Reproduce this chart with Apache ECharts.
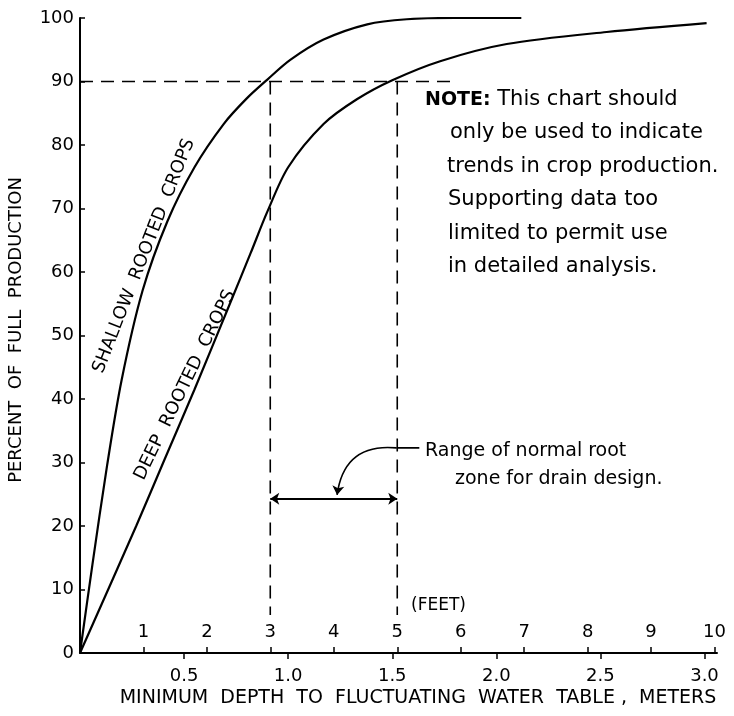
<!DOCTYPE html>
<html>
<head>
<meta charset="utf-8">
<script src="https://cdn.jsdelivr.net/npm/echarts@6/dist/echarts.min.js"></script>
<style>
html,body{margin:0;padding:0;background:#fff;}
#chart{width:734px;height:716px;}
</style>
</head>
<body>
<div id="chart"></div>
<script>
// ---- data ----
const shallowX = [0, 0.06, 0.13, 0.20, 0.30, 0.42, 0.55, 0.69, 0.80, 0.90, 1.01, 1.17, 1.38, 1.57, 1.80, 2.12];
const shallowY = [0, 14, 29.5, 43, 57, 68, 76.5, 83.3, 87.3, 90.3, 93.4, 96.6, 99, 99.8, 100, 100];
const deepX = [0, 0.27, 0.40, 0.55, 0.72, 0.82, 0.90, 1.0, 1.17, 1.33, 1.5, 1.73, 2.05, 2.53, 3.01];
const deepY = [0, 20, 30, 41.5, 55, 63, 69.5, 76.5, 83.3, 87.2, 90.2, 93.2, 95.9, 97.8, 99.2];
const guideLevel = 90;
const guideHX = [0, 1.78];
const rootZoneX = [0.914, 1.524];   // 3 ft and 5 ft in metres
const guideBottom = 6;
const rangeArrowY = 24.3;
const pointerStart = [1.52, 32.3];
const pointerEnd = [1.235, 24.9];
const leaderEndX = 1.63;
const meterTicks = [0.5, 1.0, 1.5, 2.0, 2.5, 3.0];
const feetTicks = [1, 2, 3, 4, 5, 6, 7, 8, 9, 10];
const xMaxM = 3.06;
const FT = 0.3048;

const chart = echarts.init(document.getElementById('chart'), null, {renderer: 'canvas'});
const FONT = 'DejaVu Sans';
const black = '#000';

function pairs(xs, ys) { return xs.map((x, i) => [x, ys[i]]); }

function txt(text, x, y, size, opts) {
  opts = opts || {};
  return {type: 'text', x: x, y: y, rotation: opts.rotation || 0,
    style: {text: text, font: size + 'px ' + FONT, fill: black,
            textAlign: opts.align || 'left', textVerticalAlign: 'middle'}};
}

const option = {
  animation: false,
  backgroundColor: '#fff',
  grid: {left: 80, right: 17, top: 18, bottom: 63, containLabel: false},
  xAxis: [
    {
      type: 'value', min: 0, max: xMaxM, interval: 0.5, position: 'bottom',
      axisLine: {show: true, lineStyle: {color: black, width: 2}},
      axisTick: {show: true, inside: false, length: 6, lineStyle: {color: black, width: 1.5},
                 customValues: meterTicks},
      axisLabel: {show: true, margin: 14, color: black, fontFamily: FONT, fontSize: 18,
                  customValues: meterTicks,
                  formatter: v => v.toFixed(1)},
      splitLine: {show: false}
    },
    {
      type: 'value', min: 0, max: xMaxM / FT, interval: 1, position: 'bottom',
      axisLine: {show: false},
      axisTick: {show: true, inside: true, length: 6, lineStyle: {color: black, width: 1.5},
                 customValues: feetTicks},
      axisLabel: {show: true, inside: true, margin: 12, color: black, fontFamily: FONT, fontSize: 18,
                  customValues: feetTicks,
                  formatter: v => String(v)},
      splitLine: {show: false}
    }
  ],
  yAxis: {
    type: 'value', min: 0, max: 100, interval: 10,
    axisLine: {show: true, lineStyle: {color: black, width: 2}},
    axisTick: {show: true, inside: true, length: 5, lineStyle: {color: black, width: 1.5}},
    axisLabel: {show: true, margin: 6, color: black, fontFamily: FONT, fontSize: 18,
                formatter: v => String(v)},
    splitLine: {show: false}
  },
  series: [
    {
      name: 'Shallow rooted crops', type: 'line', xAxisIndex: 0,
      data: pairs(shallowX, shallowY), smooth: 0.3, showSymbol: false,
      lineStyle: {color: black, width: 2.2}
    },
    {
      name: 'Deep rooted crops', type: 'line', xAxisIndex: 0,
      data: pairs(deepX, deepY), smooth: 0.3, showSymbol: false,
      lineStyle: {color: black, width: 2.2}
    },
    {
      name: 'guide90', type: 'line', xAxisIndex: 0,
      data: guideHX.map(x => [x, guideLevel]), showSymbol: false,
      lineStyle: {color: black, width: 1.6, type: [13, 8]}
    },
    {
      name: 'guide3ft', type: 'line', xAxisIndex: 0,
      data: [[rootZoneX[0], guideLevel], [rootZoneX[0], guideBottom]], showSymbol: false,
      lineStyle: {color: black, width: 1.6, type: [13, 8]}
    },
    {
      name: 'guide5ft', type: 'line', xAxisIndex: 0,
      data: [[rootZoneX[1], guideLevel], [rootZoneX[1], guideBottom]], showSymbol: false,
      lineStyle: {color: black, width: 1.6, type: [13, 8]}
    },
    {
      name: 'rangeArrow', type: 'lines', coordinateSystem: 'cartesian2d', xAxisIndex: 0,
      symbol: ['arrow', 'arrow'], symbolSize: [9, 9],
      lineStyle: {color: black, width: 1.8, opacity: 1},
      data: [{coords: [[rootZoneX[0], rangeArrowY], [rootZoneX[1], rangeArrowY]]}]
    },
    {
      name: 'pointer', type: 'lines', coordinateSystem: 'cartesian2d', xAxisIndex: 0,
      symbol: ['none', 'arrow'], symbolSize: [0, 9],
      lineStyle: {color: black, width: 1.6, opacity: 1, curveness: -0.48},
      data: [{coords: [pointerStart, pointerEnd]}]
    },
    {
      name: 'leader', type: 'line', xAxisIndex: 0,
      data: [pointerStart, [leaderEndX, pointerStart[1]]], showSymbol: false,
      lineStyle: {color: black, width: 1.6}
    }
  ],
  graphic: [
    txt('PERCENT  OF  FULL  PRODUCTION', 16, 330, 18, {rotation: Math.PI / 2, align: 'center'}),
    txt('MINIMUM  DEPTH  TO  FLUCTUATING  WATER  TABLE ,  METERS', 418, 698, 19, {align: 'center'}),
    txt('(FEET)', 411, 606, 17),
    txt('SHALLOW  ROOTED  CROPS', 144, 256, 18, {rotation: 68.5 * Math.PI / 180, align: 'center'}),
    txt('DEEP  ROOTED  CROPS', 185, 385, 18, {rotation: 64 * Math.PI / 180, align: 'center'}),
    {type: 'text', x: 425, y: 100,
     style: {text: '{b|NOTE:} This chart should', font: '21px ' + FONT, fill: black,
             textAlign: 'left', textVerticalAlign: 'middle',
             rich: {b: {fontWeight: 'bold', fontSize: 19, fontFamily: FONT, fill: black}}}},
    txt('only be used to indicate', 450, 133, 21),
    txt('trends in crop production.', 447, 167, 21),
    txt('Supporting data too', 448, 200, 21),
    txt('limited to permit use', 448, 234, 21),
    txt('in detailed analysis.', 448, 267, 21),
    txt('Range of normal root', 425, 451, 19),
    txt('zone for drain design.', 455, 479, 19)
  ]
};
chart.setOption(option);
</script>
</body>
</html>
